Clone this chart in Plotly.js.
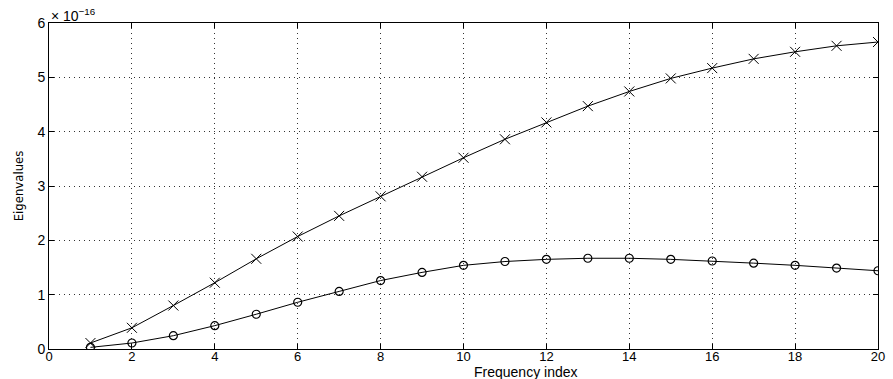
<!DOCTYPE html>
<html><head><meta charset="utf-8">
<script src="https://cdn.plot.ly/plotly-3.0.1.min.js"></script>
<style>html,body{margin:0;padding:0;background:#fff}#chart{width:893px;height:379px}</style>
</head><body><div id="chart"></div>
<script>
const freqIndex = [1,2,3,4,5,6,7,8,9,10,11,12,13,14,15,16,17,18,19,20];
// eigenvalues in units of 1e-16
const crossSeries = [0.11,0.39,0.80,1.22,1.66,2.07,2.45,2.81,3.17,3.52,3.86,4.17,4.47,4.74,4.98,5.17,5.34,5.47,5.58,5.65];
const circleSeries = [0.03,0.11,0.245,0.43,0.64,0.86,1.06,1.26,1.41,1.54,1.61,1.65,1.67,1.67,1.65,1.62,1.58,1.54,1.49,1.44];
const xTicks = [0,2,4,6,8,10,12,14,16,18,20];
const yTicks = [0,1,2,3,4,5,6];

const font = {family: 'Liberation Sans, Arial, sans-serif', size: 14, color: '#000'};
const xFont = {family: 'Liberation Sans, Arial, sans-serif', size: 13, color: '#000'};
const traces = [
  {x: freqIndex, y: crossSeries, mode: 'lines+markers', type: 'scatter',
   line: {color: '#000', width: 1},
   marker: {symbol: 'x-thin-open', size: 10, line: {color: '#000', width: 1}, color: '#000'}},
  {x: freqIndex, y: circleSeries, mode: 'lines+markers', type: 'scatter',
   line: {color: '#000', width: 1},
   marker: {symbol: 'circle-open', size: 8, line: {color: '#000', width: 1.2}, color: '#000'}}
];
const axisCommon = {showline: true, linecolor: '#000', linewidth: 1, mirror: 'ticks', ticks: 'inside', ticklen: 5,
  tickcolor: '#000', showgrid: true, gridcolor: '#333', griddash: '1px,4px', gridwidth: 1, zeroline: false, tickfont: font};
const layout = {
  width: 893, height: 379, paper_bgcolor: '#fff', plot_bgcolor: '#fff', showlegend: false,
  margin: {l: 49, r: 15, t: 23, b: 30},
  font: font,
  xaxis: Object.assign({}, axisCommon, {range: [0, 20], tickvals: xTicks, ticktext: xTicks.map(String),
    tickfont: xFont, ticklabelstandoff: -5}),
  yaxis: Object.assign({}, axisCommon, {range: [0, 6], tickvals: yTicks, ticktext: yTicks.map(String),
    title: {text: 'Eigenvalues', font: {family: 'Liberation Sans Narrow, DejaVu Sans Condensed, sans-serif', size: 13, color: '#000'}, standoff: 10}}),
  annotations: [
    {xref: 'paper', yref: 'paper', x: 0, y: 1, xanchor: 'left', yanchor: 'bottom', showarrow: false,
     text: '× 10<sup>−16</sup>', font: font, yshift: -3},
    {xref: 'paper', yref: 'paper', x: 0.575, y: 0, xanchor: 'center', yanchor: 'middle', showarrow: false,
     text: 'Frequency index', font: {family: 'Liberation Sans, Arial, sans-serif', size: 14, color: '#000'}, yshift: -23}
  ]
};
Plotly.newPlot('chart', traces, layout, {displayModeBar: false, staticPlot: true});
</script></body></html>
